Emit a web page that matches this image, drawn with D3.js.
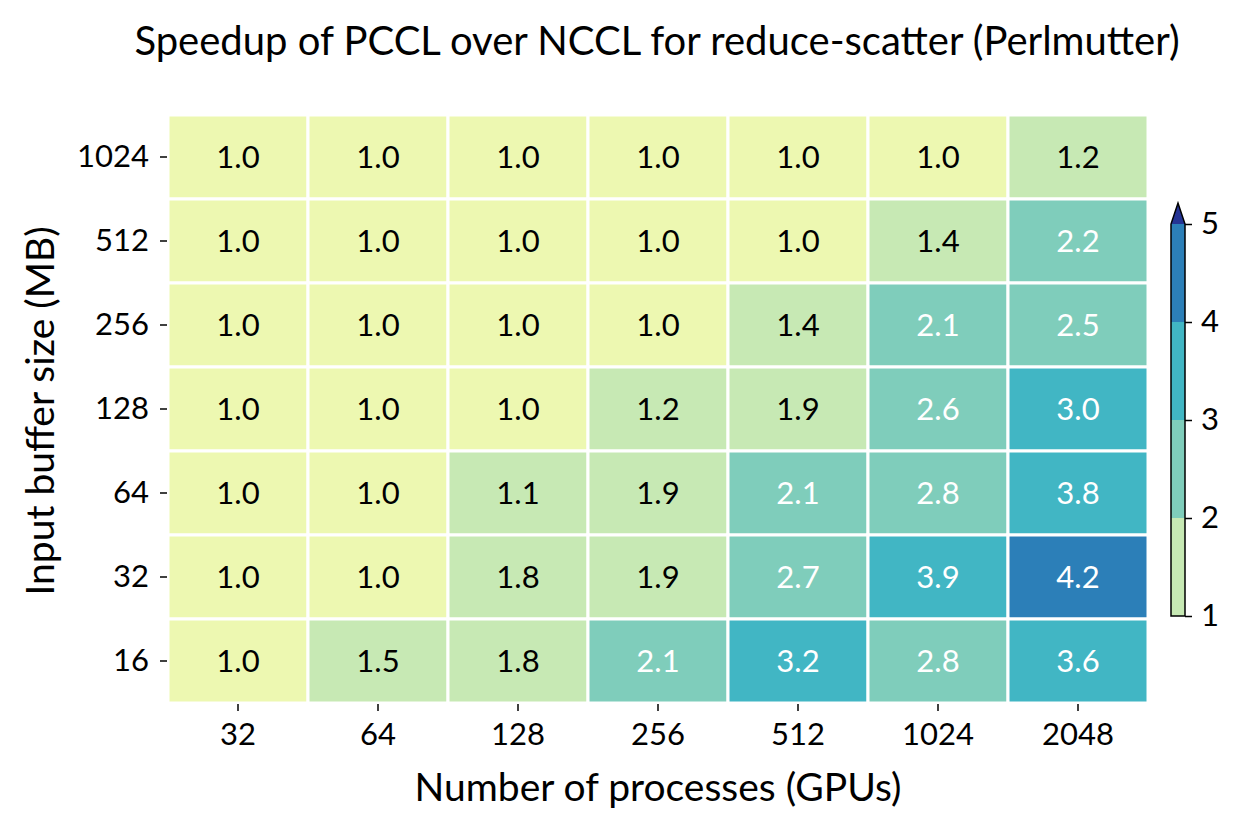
<!DOCTYPE html>
<html><head><meta charset="utf-8">
<script src="https://cdn.jsdelivr.net/npm/d3@7"></script>
<style>body{margin:0;background:#fff}svg{font-family:"Lato","DejaVu Sans",sans-serif}</style>
</head><body><svg id="c" width="1246" height="834"></svg>
<script>
const gpus = ["32","64","128","256","512","1024","2048"];
const sizes = ["1024","512","256","128","64","32","16"];
const speedup = [
  [1.0,1.0,1.0,1.0,1.0,1.0,1.2],
  [1.0,1.0,1.0,1.0,1.0,1.4,2.2],
  [1.0,1.0,1.0,1.0,1.4,2.1,2.5],
  [1.0,1.0,1.0,1.2,1.9,2.6,3.0],
  [1.0,1.0,1.1,1.9,2.1,2.8,3.8],
  [1.0,1.0,1.8,1.9,2.7,3.9,4.2],
  [1.0,1.5,1.8,2.1,3.2,2.8,3.6]
];
const cbTicks = [1,2,3,4,5];
const bounds = [1.01,2,3,4,5];
const colors = ["#edf8b1","#c7e9b4","#7fcdbb","#41b6c4","#2c7fb8","#253494"];

const FT = 31, FC = 31, FL = 39, FTi = 40;
const svg = d3.select("#c");
const L=168,R=1148,T=115,B=703;
const x = d3.scaleBand().domain(gpus).range([L,R]);
const y = d3.scaleBand().domain(sizes).range([T,B]);
const col = d3.scaleThreshold().domain(bounds).range(colors);

const cells = [];
speedup.forEach((row,i)=>row.forEach((v,j)=>cells.push({s:sizes[i],g:gpus[j],v})));
svg.append("g").selectAll("rect").data(cells).join("rect")
  .attr("x",d=>x(d.g)).attr("y",d=>y(d.s))
  .attr("width",x.bandwidth()).attr("height",y.bandwidth())
  .attr("fill",d=>col(d.v)).attr("stroke","#fff").attr("stroke-width",3);
svg.append("g").selectAll("text").data(cells).join("text")
  .attr("x",d=>x(d.g)+x.bandwidth()/2).attr("y",d=>y(d.s)+y.bandwidth()/2)
  .attr("dy","0.36em").attr("text-anchor","middle").attr("font-size",FC)
  .attr("fill",d=>d.v>=2?"#fff":"#000").text(d=>d.v.toFixed(1));

function styleAxis(g){
  g.select(".domain").remove();
  g.attr("font-family",null).attr("font-size",null);
  g.selectAll("text").attr("font-size",FT).attr("fill","#000");
  g.selectAll("line").attr("stroke","#000").attr("stroke-width",1.5);
}
const xa = svg.append("g").attr("transform",`translate(0,${B+1})`)
  .call(d3.axisBottom(x).tickSize(7).tickPadding(12));
styleAxis(xa);
const ya = svg.append("g").attr("transform",`translate(${L-1},0)`)
  .call(d3.axisLeft(y).tickSize(7).tickPadding(11));
styleAxis(ya);

svg.append("text").attr("x",657).attr("y",55).attr("text-anchor","middle")
  .attr("font-size",FTi).text("Speedup of PCCL over NCCL for reduce-scatter (Perlmutter)");
svg.append("text").attr("x",658).attr("y",801).attr("text-anchor","middle")
  .attr("font-size",FL).text("Number of processes (GPUs)");
svg.append("text").attr("transform","translate(54,411) rotate(-90)").attr("text-anchor","middle")
  .attr("font-size",FL).text("Input buffer size (MB)");

// colorbar
const cbL=1171,cbW=14,cbTop=224,cbBot=616;
const cy = d3.scaleLinear().domain([1,5]).range([cbBot,cbTop]);
const cb = svg.append("g");
for(let k=0;k<4;k++){
  cb.append("rect").attr("x",cbL).attr("y",cy(cbTicks[k+1])).attr("width",cbW)
    .attr("height",cy(cbTicks[k])-cy(cbTicks[k+1])).attr("fill",colors[k+1]);
}
cb.append("path").attr("d",`M${cbL},${cbTop}L${cbL+cbW/2},${cbTop-21}L${cbL+cbW},${cbTop}Z`)
  .attr("fill",colors[5]);
cb.append("path").attr("d",`M${cbL},${cbBot}L${cbL},${cbTop}L${cbL+cbW/2},${cbTop-21}L${cbL+cbW},${cbTop}L${cbL+cbW},${cbBot}Z`)
  .attr("fill","none").attr("stroke","#000").attr("stroke-width",1.5);
const ca = cb.append("g").attr("transform",`translate(${cbL+cbW},0)`)
  .call(d3.axisRight(cy).tickValues(cbTicks).tickFormat(d3.format("d")).tickSize(7).tickPadding(9));
styleAxis(ca);
</script></body></html>
